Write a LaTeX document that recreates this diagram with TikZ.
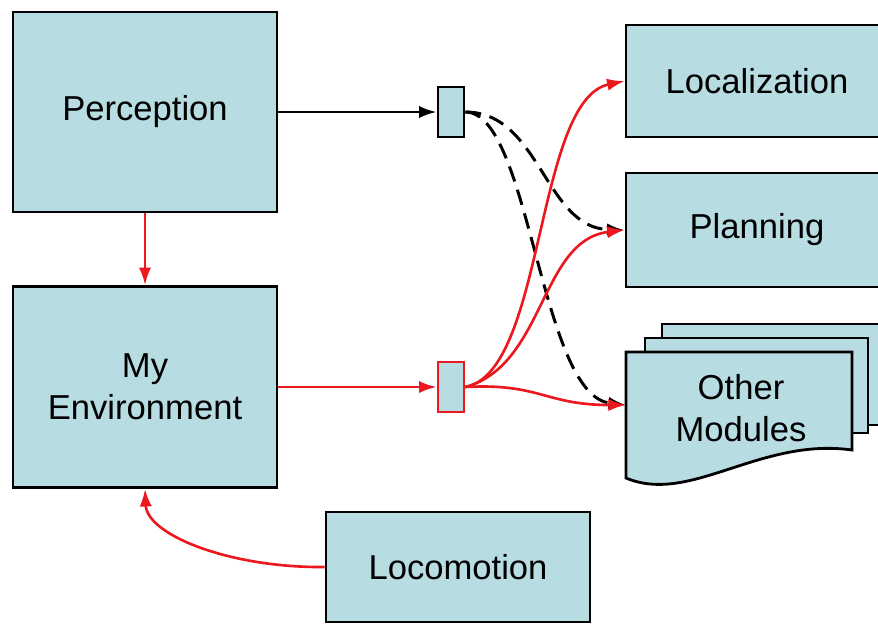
\documentclass[tikz,border=0pt]{standalone}
\usepackage{fontspec}
\setmainfont{Liberation Sans}
\usetikzlibrary{arrows.meta}
\definecolor{boxfill}{RGB}{183,221,227}
\definecolor{linkred}{RGB}{235,25,30}

\begin{document}
\begin{tikzpicture}[x=0.02cm,y=-0.02cm,
  every node/.style={inner sep=2pt},
  module/.style={draw,line width=1.6pt,fill=boxfill,minimum width=5.28cm,align=center,font=\fontsize{19.7}{24}\selectfont},
  port/.style={draw,line width=1.6pt,fill=boxfill,minimum width=0.52cm,minimum height=1cm},
  sheet/.style={draw,line width=1.6pt,fill=boxfill},
  feed/.style={line width=1.5pt,-{Latex[length=10pt,width=7pt]}},
  stream/.style={feed,line width=1.7pt,dash pattern=on 9pt off 5pt}]
  \clip (0,0) rectangle (878,626);

  \node[module,minimum height=4cm] (perc) at (145,112) {Perception};
  \node[module,minimum height=4.02cm] (env) at (145,387) {My\\Environment};
  \node[module,minimum height=2.2cm] (loco) at (458,567) {Locomotion};
  \node[module,minimum width=5.24cm,minimum height=2.24cm] (loc) at (757,81) {Localization};
  \node[module,minimum width=5.24cm,minimum height=2.28cm] (plan) at (757,230) {Planning};
  \node[port] (p1) at (451,112) {};
  \node[port,draw=linkred] (p2) at (451,387) {};

  % stacked sheets, front one with a wavy bottom
  \draw[sheet] (662,324) rectangle (890,425);
  \draw[sheet] (645,338) rectangle (868,433);
  \draw[sheet] (626,352) -- (852,352) -- (852,450)
    .. controls (760,437) and (690,505) .. (626,478) -- cycle;
  \node[font=\fontsize{19.7}{24}\selectfont,align=center] (other) at (741,408) {Other\\Modules};
  \coordinate (otherin) at (626,405);

  \draw[feed] (perc.east) -- (p1.west);
  \draw[feed,linkred] (perc.south) -- (env.north);
  \draw[feed,linkred] (env.east) -- (p2.west);
  \draw[feed,linkred] (loco.west) .. controls (230,568) and (147,535) .. (env.south);

  \draw[stream] (p1.east) .. controls (540,112) and (545,228) .. (plan.west);
  \draw[stream] (p1.east) .. controls (530,112) and (540,395) .. (otherin);

  \draw[feed,linkred] (p2.east) .. controls (545,372) and (535,100) .. (loc.west);
  \draw[feed,linkred] (p2.east) .. controls (545,365) and (540,240) .. (plan.west);
  \draw[feed,linkred] (p2.east) .. controls (540,383) and (545,405) .. (otherin);
\end{tikzpicture}
\end{document}
